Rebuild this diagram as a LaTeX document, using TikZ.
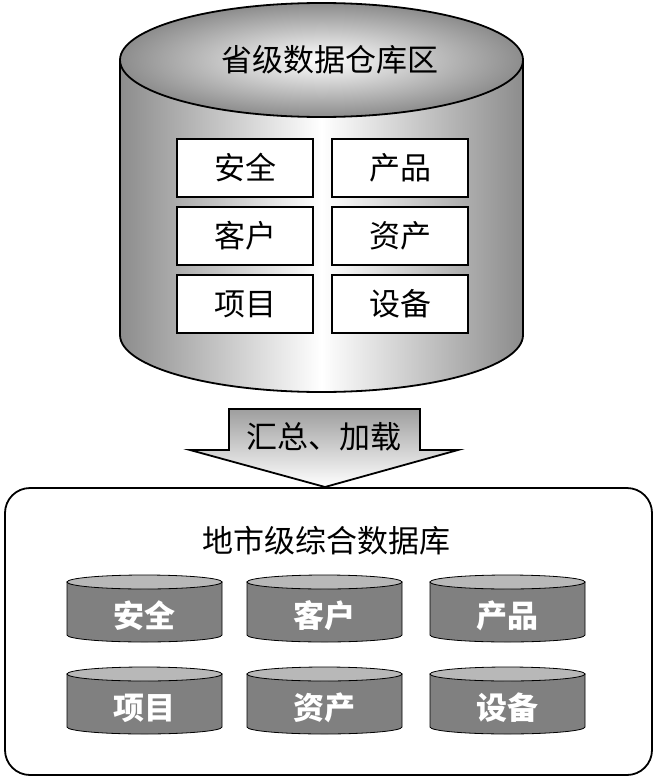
\documentclass[tikz,border=0pt]{standalone}
\usepackage{fontspec}
\newfontfamily\cjk{Noto Sans CJK SC}
\usepackage{tikz}
\usetikzlibrary{positioning}

\begin{document}
\begin{tikzpicture}[x=1pt,y=1pt,node distance=8pt,every node/.style={font=\cjk\fontsize{31}{34}\selectfont}]
\tikzstyle{tbl}=[draw,line width=2pt,fill=white,minimum width=136pt,minimum height=58pt,inner sep=0pt]
\tikzstyle{dbtxt}=[text=white,font=\cjk\bfseries\fontsize{31}{34}\selectfont]
\useasboundingbox (0,0) rectangle (657,-779);
% provincial warehouse
\draw[line width=1.8pt,left color=black!45,right color=black!45,middle color=white]
  (120,-60) -- (120,-335) arc[start angle=180,end angle=360,x radius=201.5,y radius=57] -- (523,-60) -- cycle;
\draw[line width=1.8pt,shading=radial,inner color=white,outer color=black!45]
  (321.5,-60) ellipse[x radius=201.5,y radius=57];
\node (prov) at (330,-60) {省级数据仓库区};
\node[tbl] (anquan) at (245,-168) {安全};
\node[tbl,below=of anquan] (kehu) {客户};
\node[tbl,below=of kehu] (xiangmu) {项目};
\node[tbl,right=17pt of anquan] (chanpin) {产品};
\node[tbl,below=of chanpin] (zichan) {资产};
\node[tbl,below=of zichan] (shebei) {设备};
% city database
\draw[line width=1.8pt,rounded corners=25pt] (5,-488) rectangle (652,-775);
\node (city) at (326,-541) {地市级综合数据库};
\foreach \x/\y/\nm/\txt in {144.5/-582/dbA/安全,324.5/-582/dbB/客户,507.5/-582/dbC/产品,
  144.5/-674/dbD/项目,324.5/-674/dbE/资产,507.5/-674/dbF/设备}{
  \draw[fill=black!50,line width=0.8pt] (\x-77.5,\y) -- (\x-77.5,\y-53)
    arc[start angle=180,end angle=360,x radius=77.5,y radius=7] -- (\x+77.5,\y) -- cycle;
  \draw[fill=black!28,line width=0.8pt] (\x,\y) ellipse[x radius=77.5,y radius=7];
  \node[dbtxt] (\nm) at (\x,\y-34) {\txt};
}
% load arrow
\draw[line width=1.8pt,top color=black!38,bottom color=white]
  (229,-409) -- (420,-409) -- (420,-450) -- (458,-450) -- (325,-487)
  -- (190,-450) -- (229,-450) -- cycle;
\node (load) at (324,-437) {汇总、加载};
\end{tikzpicture}
\end{document}
